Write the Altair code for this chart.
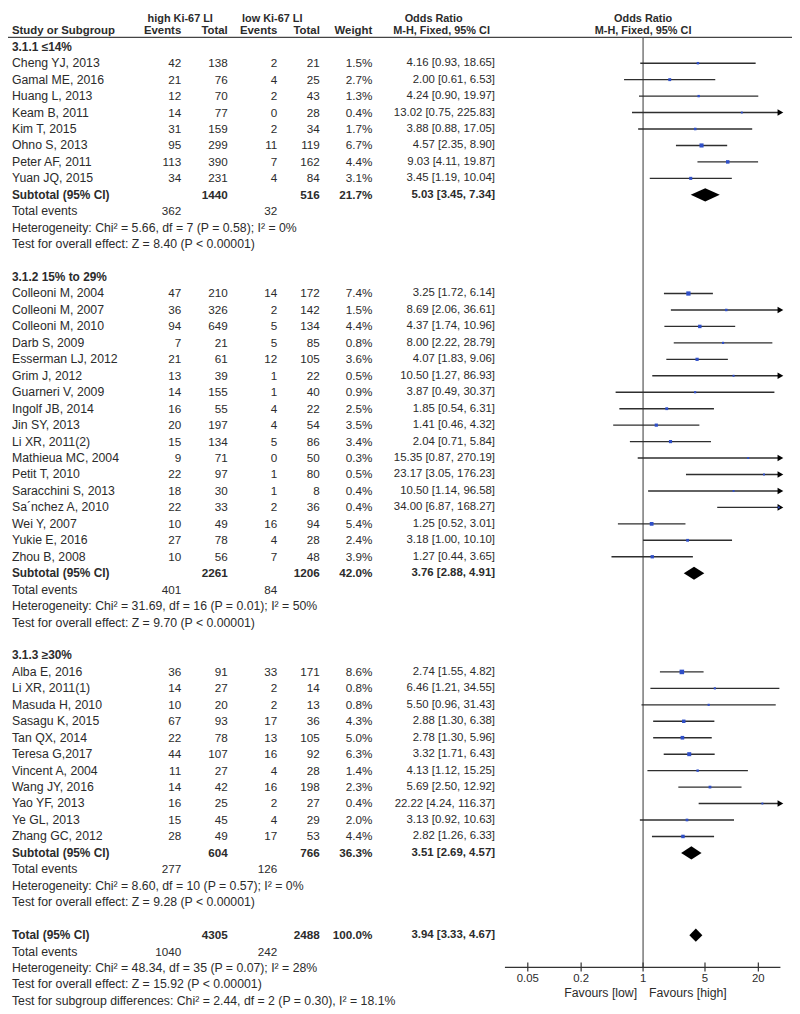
import altair as alt
import pandas as pd

# ---------------- data ----------------
group_titles = ["3.1.1 ≤14%", "3.1.2 15% to 29%", "3.1.3 ≥30%"]

g1_names = ["Cheng YJ, 2013", "Gamal ME, 2016", "Huang L, 2013", "Keam B, 2011",
            "Kim T, 2015", "Ohno S, 2013", "Peter AF, 2011", "Yuan JQ, 2015"]
g1_he = [42, 21, 12, 14, 31, 95, 113, 34]
g1_ht = [138, 76, 70, 77, 159, 299, 390, 231]
g1_le = [2, 4, 2, 0, 2, 11, 7, 4]
g1_lt = [21, 25, 43, 28, 34, 119, 162, 84]
g1_w = [1.5, 2.7, 1.3, 0.4, 1.7, 6.7, 4.4, 3.1]
g1_or = [4.16, 2.00, 4.24, 13.02, 3.88, 4.57, 9.03, 3.45]
g1_lo = [0.93, 0.61, 0.90, 0.75, 0.88, 2.35, 4.11, 1.19]
g1_hi = [18.65, 6.53, 19.97, 225.83, 17.05, 8.90, 19.87, 10.04]

g2_names = ["Colleoni M, 2004", "Colleoni M, 2007", "Colleoni M, 2010", "Darb S, 2009",
            "Esserman LJ, 2012", "Grim J, 2012", "Guarneri V, 2009", "Ingolf JB, 2014",
            "Jin SY, 2013", "Li XR, 2011(2)", "Mathieua MC, 2004", "Petit T, 2010",
            "Saracchini S, 2013", "Sa\u00b4nchez A, 2010", "Wei Y, 2007", "Yukie E, 2016",
            "Zhou B, 2008"]
g2_he = [47, 36, 94, 7, 21, 13, 14, 16, 20, 15, 9, 22, 18, 22, 10, 27, 10]
g2_ht = [210, 326, 649, 21, 61, 39, 155, 55, 197, 134, 71, 97, 30, 33, 49, 78, 56]
g2_le = [14, 2, 5, 5, 12, 1, 1, 4, 4, 5, 0, 1, 1, 2, 16, 4, 7]
g2_lt = [172, 142, 134, 85, 105, 22, 40, 22, 54, 86, 50, 80, 8, 36, 94, 28, 48]
g2_w = [7.4, 1.5, 4.4, 0.8, 3.6, 0.5, 0.9, 2.5, 3.5, 3.4, 0.3, 0.5, 0.4, 0.4, 5.4, 2.4, 3.9]
g2_or = [3.25, 8.69, 4.37, 8.00, 4.07, 10.50, 3.87, 1.85, 1.41, 2.04, 15.35, 23.17,
         10.50, 34.00, 1.25, 3.18, 1.27]
g2_lo = [1.72, 2.06, 1.74, 2.22, 1.83, 1.27, 0.49, 0.54, 0.46, 0.71, 0.87, 3.05,
         1.14, 6.87, 0.52, 1.00, 0.44]
g2_hi = [6.14, 36.61, 10.96, 28.79, 9.06, 86.93, 30.37, 6.31, 4.32, 5.84, 270.19, 176.23,
         96.58, 168.27, 3.01, 10.10, 3.65]

g3_names = ["Alba E, 2016", "Li XR, 2011(1)", "Masuda H, 2010", "Sasagu K, 2015",
            "Tan QX, 2014", "Teresa G,2017", "Vincent A, 2004", "Wang JY, 2016",
            "Yao YF, 2013", "Ye GL, 2013", "Zhang GC, 2012"]
g3_he = [36, 14, 10, 67, 22, 44, 11, 14, 16, 15, 28]
g3_ht = [91, 27, 20, 93, 78, 107, 27, 42, 25, 45, 49]
g3_le = [33, 2, 2, 17, 13, 16, 4, 16, 2, 4, 17]
g3_lt = [171, 14, 13, 36, 105, 92, 28, 198, 27, 29, 53]
g3_w = [8.6, 0.8, 0.8, 4.3, 5.0, 6.3, 1.4, 2.3, 0.4, 2.0, 4.4]
g3_or = [2.74, 6.46, 5.50, 2.88, 2.78, 3.32, 4.13, 5.69, 22.22, 3.13, 2.82]
g3_lo = [1.55, 1.21, 0.96, 1.30, 1.30, 1.71, 1.12, 2.50, 4.24, 0.92, 1.26]
g3_hi = [4.82, 34.55, 31.43, 6.38, 5.96, 6.43, 15.25, 12.92, 116.37, 10.63, 6.33]

sub_ht = [1440, 2261, 604]
sub_lt = [516, 1206, 766]
sub_w = [21.7, 42.0, 36.3]
sub_or = [5.03, 3.76, 3.51]
sub_lo = [3.45, 2.88, 2.69]
sub_hi = [7.34, 4.91, 4.57]
sub_ev_high = [362, 401, 277]
sub_ev_low = [32, 84, 126]
sub_het = ["Heterogeneity: Chi² = 5.66, df = 7 (P = 0.58); I² = 0%",
           "Heterogeneity: Chi² = 31.69, df = 16 (P = 0.01); I² = 50%",
           "Heterogeneity: Chi² = 8.60, df = 10 (P = 0.57); I² = 0%"]
sub_z = ["Test for overall effect: Z = 8.40 (P < 0.00001)",
         "Test for overall effect: Z = 9.70 (P < 0.00001)",
         "Test for overall effect: Z = 9.28 (P < 0.00001)"]

tot_ht, tot_lt, tot_w = 4305, 2488, 100.0
tot_or, tot_lo, tot_hi = 3.94, 3.33, 4.67
tot_ev_high, tot_ev_low = 1040, 242
tot_het = "Heterogeneity: Chi² = 48.34, df = 35 (P = 0.07); I² = 28%"
tot_z = "Test for overall effect: Z = 15.92 (P < 0.00001)"
tot_sub = "Test for subgroup differences: Chi² = 2.44, df = 2 (P = 0.30), I² = 18.1%"

tick_values = [0.05, 0.2, 1, 5, 20]
tick_labels = ["0.05", "0.2", "1", "5", "20"]

# ---------------- layout ----------------
W, H = 792, 1006
ROW_PX = 16.62
R0 = -2.046
FONT = "Liberation Sans"
TXT = "#2b2b2b"
FS_LABEL = 12.4
FS_BOLD = 12
FS_NUM = 11.8
FS_OR = 11.5
FS_HEAD1 = 11
FS_HEAD2 = 11.5
XMIN, XMAX = 0.0276, 35.5
yscale = alt.Scale(domain=[R0, R0 + H / ROW_PX], range=[0, H], nice=False, zero=False)
xscale = alt.Scale(type="log", domain=[XMIN, XMAX], range=[502, 780.3], nice=False)

groups = [
    (g1_names, g1_he, g1_ht, g1_le, g1_lt, g1_w, g1_or, g1_lo, g1_hi),
    (g2_names, g2_he, g2_ht, g2_le, g2_lt, g2_w, g2_or, g2_lo, g2_hi),
    (g3_names, g3_he, g3_ht, g3_le, g3_lt, g3_w, g3_or, g3_lo, g3_hi),
]

rows, studies, diamonds = [], [], []


def add(r, label="", he="", ht="", le="", lt="", w="", ort="", bold=False):
    rows.append(dict(r=r, label=label, he=str(he), ht=str(ht), le=str(le), lt=str(lt),
                     w=w, ort=ort, bold=bold))


def ortext(o, l, h):
    return f"{o:.2f} [{l:.2f}, {h:.2f}]"


def add_diamond(r, o, l, h, idx):
    for x, dy in [(l, 0.0), (o, 0.4), (h, 0.0)]:
        diamonds.append(dict(id=idx, x=x, y1=r - dy, y2=r + dy))


r = 0
for gi, (names, he, ht, le, lt, w, o, lo, hi) in enumerate(groups):
    add(r, group_titles[gi], bold=True)
    r += 1
    for i in range(len(names)):
        add(r, names[i], he[i], ht[i], le[i], lt[i], f"{w[i]:.1f}%", ortext(o[i], lo[i], hi[i]))
        studies.append(dict(r=r, orv=o[i], lo=lo[i], hi=min(hi[i], XMAX),
                            clipped=hi[i] > XMAX, w=w[i]))
        r += 1
    add(r, "Subtotal (95% CI)", "", sub_ht[gi], "", sub_lt[gi], f"{sub_w[gi]:.1f}%",
        ortext(sub_or[gi], sub_lo[gi], sub_hi[gi]), bold=True)
    add_diamond(r, sub_or[gi], sub_lo[gi], sub_hi[gi], gi)
    r += 1
    add(r, "Total events", sub_ev_high[gi], "", sub_ev_low[gi])
    r += 1
    add(r, sub_het[gi])
    r += 1
    add(r, sub_z[gi])
    r += 2

add(r, "Total (95% CI)", "", tot_ht, "", tot_lt, f"{tot_w:.1f}%",
    ortext(tot_or, tot_lo, tot_hi), bold=True)
add_diamond(r, tot_or, tot_lo, tot_hi, 9)
r += 1
add(r, "Total events", tot_ev_high, "", tot_ev_low)
r += 1
add(r, tot_het)
r += 1
add(r, tot_z)
r += 1
add(r, tot_sub)
AXIS_R = r - 2.04  # row position of the forest axis line

rows_df = pd.DataFrame(rows)
stud_df = pd.DataFrame(studies)
dia_df = pd.DataFrame(diamonds)

Y = lambda f: alt.Y(f, scale=yscale, axis=None)
X = lambda f: alt.X(f, scale=xscale, axis=None)

layers = []

# table text columns
cols = [("label", 4, "left"), ("he", 175, "right"), ("ht", 222, "right"),
        ("le", 272, "right"), ("lt", 315, "right"), ("w", 368, "right"),
        ("ort", 492, "right")]
for bold in (False, True):
    sub = rows_df[rows_df["bold"] == bold]
    for field, xp, al in cols:
        if field == "label":
            fs = FS_BOLD if bold else FS_LABEL
        elif field == "ort":
            fs = FS_OR
        else:
            fs = FS_NUM
        layers.append(
            alt.Chart(sub).mark_text(align=al, baseline="middle", font=FONT, fontSize=fs,
                                     fontWeight="bold" if bold else "normal", color=TXT)
            .encode(x=alt.value(xp), y=Y("r:Q"), text=f"{field}:N")
        )

# headers
H1, H2, RULE_R = -1.685, -0.963, -0.57


def head(text, xp, al, rr, fs):
    return (alt.Chart(pd.DataFrame(dict(r=[rr], t=[text])))
            .mark_text(align=al, baseline="middle", font=FONT, fontSize=fs,
                       fontWeight="bold", color=TXT)
            .encode(x=alt.value(xp), y=Y("r:Q"), text="t:N"))


layers.append(head("high Ki-67 LI", 174, "center", H1, FS_HEAD1))
layers.append(head("low Ki-67 LI", 267, "center", H1, FS_HEAD1))
layers.append(head("Odds Ratio", 430, "center", H1, FS_HEAD1))
for t, xp, al in [("Study or Subgroup", 4, "left"), ("Events", 175, "right"),
                  ("Total", 222, "right"), ("Events", 272, "right"), ("Total", 315, "right"),
                  ("Weight", 368, "right")]:
    layers.append(head(t, xp, al, H2, FS_HEAD2))
layers.append(head("M-H, Fixed, 95% CI", 438, "center", H2, 11))

right_head = pd.DataFrame(dict(r=[H1, H2], x=[1, 1], t=["Odds Ratio", "M-H, Fixed, 95% CI"]))
layers.append(
    alt.Chart(right_head.iloc[[0]])
    .mark_text(align="center", baseline="middle", font=FONT, fontSize=FS_HEAD1,
               fontWeight="bold", color=TXT)
    .encode(x=X("x:Q"), y=Y("r:Q"), text="t:N"))
layers.append(
    alt.Chart(right_head.iloc[[1]])
    .mark_text(align="center", baseline="middle", font=FONT, fontSize=11,
               fontWeight="bold", color=TXT)
    .encode(x=X("x:Q"), y=Y("r:Q"), text="t:N"))

# header rule
layers.append(
    alt.Chart(pd.DataFrame(dict(r=[RULE_R]))).mark_rule(color="#444", strokeWidth=1.2)
    .encode(x=alt.value(0), x2=alt.value(W), y=Y("r:Q")))

# line of no effect
layers.append(
    alt.Chart(pd.DataFrame(dict(x=[1], r1=[RULE_R], r2=[AXIS_R]))).mark_rule(color="#555",
                                                                              strokeWidth=1.2)
    .encode(x=X("x:Q"), y=Y("r1:Q"), y2="r2:Q"))

# CI lines
layers.append(
    alt.Chart(stud_df).mark_rule(color="#2e2e2e", strokeWidth=1.4)
    .encode(x=X("lo:Q"), x2="hi:Q", y=Y("r:Q")))
# arrows for truncated CIs
layers.append(
    alt.Chart(stud_df[stud_df["clipped"]]).mark_point(shape="triangle-right", filled=True,
                                                      size=45, color="black", opacity=1)
    .encode(x=X("hi:Q"), y=Y("r:Q")))
# study squares
layers.append(
    alt.Chart(stud_df).mark_square(color="#2f4fc8", opacity=1)
    .encode(x=X("orv:Q"), y=Y("r:Q"),
            size=alt.Size("w:Q", scale=alt.Scale(domain=[0, 9], range=[3, 22]), legend=None)))
# diamonds
layers.append(
    alt.Chart(dia_df).mark_area(color="black", orient="vertical")
    .encode(x=X("x:Q"), y=Y("y1:Q"), y2="y2:Q", detail="id:N"))

# forest axis
layers.append(
    alt.Chart(pd.DataFrame(dict(a=[XMIN], b=[XMAX], r=[AXIS_R]))).mark_rule(color="#333",
                                                                          strokeWidth=1.2)
    .encode(x=X("a:Q"), x2="b:Q", y=Y("r:Q")))
ticks_df = pd.DataFrame(dict(v=tick_values, lab=tick_labels, r1=[AXIS_R - 0.3] * 5,
                             r2=[AXIS_R + 0.25] * 5, rl=[AXIS_R + 0.72] * 5))
layers.append(
    alt.Chart(ticks_df).mark_rule(color="#333", strokeWidth=1.2)
    .encode(x=X("v:Q"), y=Y("r1:Q"), y2="r2:Q"))
layers.append(
    alt.Chart(ticks_df).mark_text(align="center", baseline="middle", font=FONT, fontSize=11.5,
                                  color=TXT)
    .encode(x=X("v:Q"), y=Y("rl:Q"), text="lab:N"))
fav = pd.DataFrame(dict(x=[1], r=[AXIS_R + 1.56]))
layers.append(
    alt.Chart(fav).mark_text(align="right", baseline="middle", font=FONT, fontSize=FS_LABEL,
                             color=TXT, dx=-6, text="Favours [low]")
    .encode(x=X("x:Q"), y=Y("r:Q")))
layers.append(
    alt.Chart(fav).mark_text(align="left", baseline="middle", font=FONT, fontSize=FS_LABEL,
                             color=TXT, dx=6, text="Favours [high]")
    .encode(x=X("x:Q"), y=Y("r:Q")))

chart = alt.layer(*layers).properties(
    width=W, height=H, padding=0, autosize=alt.AutoSizeParams(type="none")
).configure_view(stroke=None)

chart.save("out.html", embed_options={"renderer": "svg", "actions": False})
